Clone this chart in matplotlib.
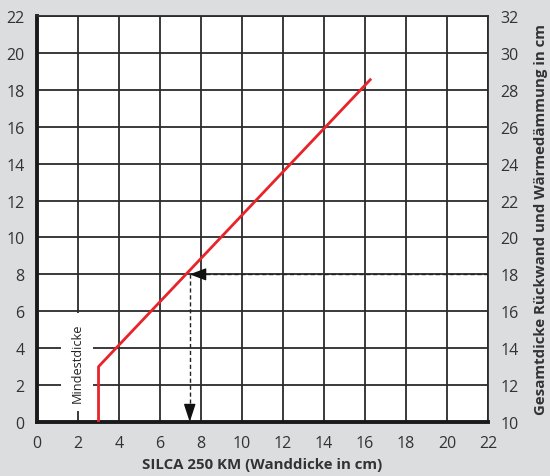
import matplotlib
matplotlib.use('Agg')
import matplotlib.pyplot as plt

# data
wall_x = [3, 3, 16.3]          # SILCA 250 KM wall thickness (cm)
total_y = [0, 3, 18.6]         # left scale
read_x = 7.45                  # example reading
read_y = 8
left_ticks = list(range(0, 23, 2))
right_ticks = list(range(10, 33, 2))
x_ticks = list(range(0, 23, 2))

plt.rcParams['font.family'] = ['Open Sans', 'DejaVu Sans']

bg = '#dcdddf'
grid_c = '#2b2b2b'
red = '#e8232a'

fig = plt.figure(figsize=(5.5, 4.77), dpi=100, facecolor=bg)
ax = fig.add_axes([0.0673, 0.1132, 0.8200, 0.8512])
ax.set_facecolor('white')

ax.set_xlim(0, 22)
ax.set_ylim(0, 22)
ax.set_xticks(x_ticks)
ax.set_yticks(left_ticks)
ax.grid(True, color=grid_c, lw=1.3)
ax.set_axisbelow(True)
ax.tick_params(length=0, labelsize=11.5, colors='#333333', pad=9)

for s in ['top', 'right']:
    ax.spines[s].set_linewidth(1.3)
    ax.spines[s].set_color(grid_c)
for s in ['left', 'bottom']:
    ax.spines[s].set_linewidth(2.8)
    ax.spines[s].set_color('#1a1a1a')

ax2 = ax.twinx()
ax2.set_ylim(10, 32)
ax2.set_yticks(right_ticks)
ax2.tick_params(length=0, labelsize=11.5, colors='#333333', pad=9)
for s in ax2.spines.values():
    s.set_visible(False)
ax2.set_ylabel('Gesamtdicke Rückwand und Wärmedämmung in cm',
               fontsize=10.8, fontweight='bold', color='#333333', labelpad=11)

ax.set_xlabel('SILCA 250 KM (Wanddicke in cm)', fontsize=10.8,
              fontweight='bold', color='#333333', labelpad=5)

# red curve
ax.plot(wall_x, total_y, color=red, lw=2, solid_capstyle='butt', zorder=4)

# dashed reading lines with arrow heads
dash = (0, (3, 2))
ax.plot([22, read_x + 0.6], [read_y, read_y], color='#222222', lw=1,
        linestyle=dash, zorder=3)
ax.annotate('', xy=(read_x, read_y), xytext=(read_x + 0.8, read_y),
            arrowprops=dict(arrowstyle='-|>,head_length=1.0,head_width=0.38',
                            color='#111111', lw=1, shrinkA=0, shrinkB=0),
            zorder=5)
ax.plot([read_x, read_x], [read_y, 0.8], color='#222222', lw=1,
        linestyle=dash, zorder=3)
ax.annotate('', xy=(read_x, 0), xytext=(read_x, 0.9),
            arrowprops=dict(arrowstyle='-|>,head_length=1.1,head_width=0.36',
                            color='#111111', lw=1, shrinkA=0, shrinkB=0),
            zorder=5)

# minimum thickness label
ax.text(1.95, 3.25, 'Mindestdicke', rotation=90, ha='center', va='center',
        fontsize=9.2, color='#222222', zorder=3,
        bbox=dict(facecolor='white', edgecolor='none', pad=7))

fig.savefig('out.png', dpi=100, facecolor=bg)
